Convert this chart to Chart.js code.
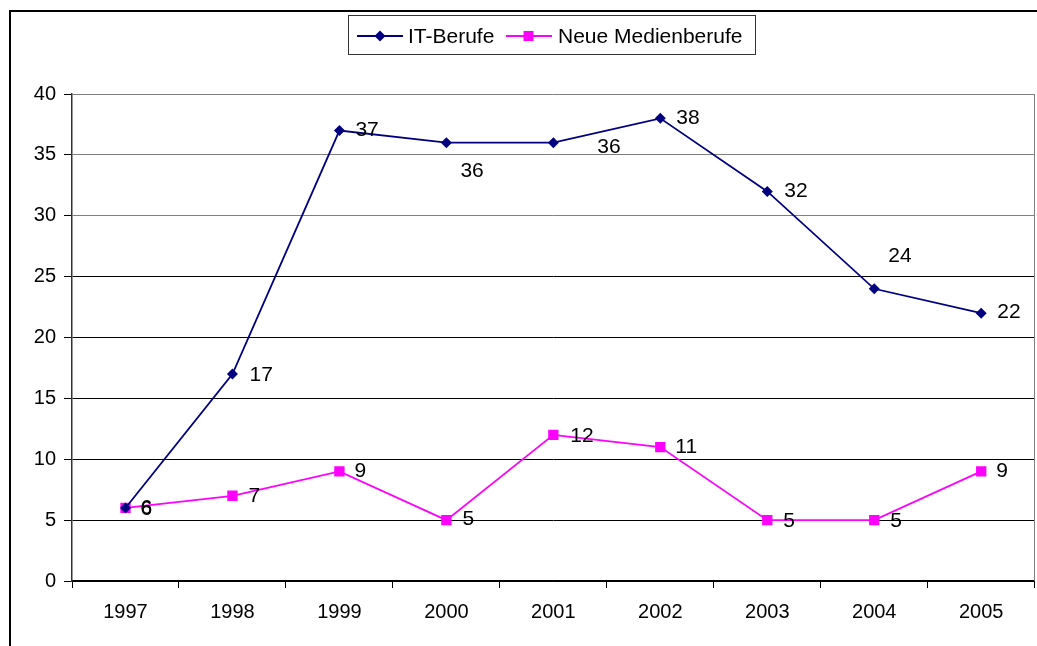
<!DOCTYPE html>
<html>
<head>
<meta charset="utf-8">
<script src="https://cdn.jsdelivr.net/npm/chart.js@4.4.0/dist/chart.umd.min.js"></script>
<style>
html,body{margin:0;padding:0;background:#fff;overflow:hidden;}
#wrap{position:absolute;left:0;top:0;width:1037px;height:646px;overflow:hidden;}
#c{position:absolute;left:0;top:0;}
</style>
</head>
<body>
<div id="wrap"><canvas id="c" width="1042" height="646"></canvas></div>
<script>
const categories = ['1997','1998','1999','2000','2001','2002','2003','2004','2005'];
const itBerufe = [6, 17, 37, 36, 36, 38, 32, 24, 22];
const neueMedienberufe = [6, 7, 9, 5, 12, 11, 5, 5, 9];
const seriesNames = ['IT-Berufe', 'Neue Medienberufe'];
const yTicks = [0, 5, 10, 15, 20, 25, 30, 35, 40];

// label offsets relative to each point (dx to label left, dy to label centre)
const itLabelOffsets = [[15,1],[17,1],[16,0],[14,29],[44,5],[16,0],[17,0],[14,-33],[16,-1]];
const nmLabelOffsets = [[15,0],[16,0],[15,0],[16,-1],[17,1],[15,0],[16,1],[16,1],[15,0]];

const FONT = '"Liberation Sans", Arial, sans-serif';
const NAVY = '#000080';
const MAGENTA = '#FF00FF';

const decorPlugin = {
  id: 'decor',
  afterDatasetsDraw(chart) {
    const ctx = chart.ctx;
    const area = chart.chartArea;
    ctx.save();
    // right border of plot area
    ctx.strokeStyle = '#808080';
    ctx.lineWidth = 1;
    ctx.beginPath();
    ctx.moveTo(Math.round(area.right) - 0.5, area.top);
    ctx.lineTo(Math.round(area.right) - 0.5, area.bottom);
    ctx.stroke();
    // data labels
    ctx.fillStyle = '#000';
    ctx.font = '21px ' + FONT;
    ctx.textAlign = 'left';
    ctx.textBaseline = 'middle';
    const offs = [itLabelOffsets, nmLabelOffsets];
    chart.data.datasets.forEach((ds, di) => {
      const meta = chart.getDatasetMeta(di);
      meta.data.forEach((pt, i) => {
        const o = offs[di][i];
        ctx.fillText(String(ds.data[i]), pt.x + o[0], pt.y + o[1]);
      });
    });
    ctx.restore();
  },
  afterDraw(chart) {
    const ctx = chart.ctx;
    ctx.save();
    // outer frame (top and left)
    ctx.strokeStyle = '#000';
    ctx.lineWidth = 2;
    ctx.beginPath();
    ctx.moveTo(10, 660);
    ctx.lineTo(10, 11);
    ctx.lineTo(1045, 11);
    ctx.stroke();
    // legend box
    ctx.lineWidth = 1;
    ctx.strokeStyle = '#333';
    ctx.fillStyle = '#fff';
    ctx.fillRect(348.5, 15.5, 407, 39);
    ctx.strokeRect(348.5, 15.5, 407, 39);
    const ly = 36;
    // IT-Berufe sample
    ctx.strokeStyle = NAVY; ctx.lineWidth = 1.8;
    ctx.beginPath(); ctx.moveTo(357, ly); ctx.lineTo(403, ly); ctx.stroke();
    ctx.fillStyle = NAVY;
    ctx.beginPath();
    ctx.moveTo(380, ly - 5.5); ctx.lineTo(385.5, ly); ctx.lineTo(380, ly + 5.5); ctx.lineTo(374.5, ly);
    ctx.closePath(); ctx.fill();
    // Neue Medienberufe sample
    ctx.strokeStyle = MAGENTA;
    ctx.beginPath(); ctx.moveTo(506, ly); ctx.lineTo(552, ly); ctx.stroke();
    ctx.fillStyle = MAGENTA;
    ctx.fillRect(523.5, ly - 5, 10, 10);
    ctx.fillStyle = '#000';
    ctx.font = '21px ' + FONT;
    ctx.textBaseline = 'middle';
    ctx.textAlign = 'left';
    ctx.fillText(seriesNames[0], 408, ly + 1);
    ctx.fillText(seriesNames[1], 558, ly + 1);
    ctx.restore();
  }
};

new Chart(document.getElementById('c'), {
  type: 'line',
  data: {
    labels: categories,
    datasets: [
      {
        label: seriesNames[0],
        data: itBerufe,
        borderColor: NAVY,
        backgroundColor: NAVY,
        borderWidth: 1.8,
        pointStyle: 'rectRot',
        pointRadius: 5.5,
        pointBorderWidth: 0,
        tension: 0,
        fill: false
      },
      {
        label: seriesNames[1],
        data: neueMedienberufe,
        borderColor: MAGENTA,
        backgroundColor: MAGENTA,
        borderWidth: 1.8,
        pointStyle: 'rect',
        pointRadius: 7.3,
        pointBorderWidth: 0,
        tension: 0,
        fill: false
      }
    ]
  },
  options: {
    responsive: false,
    animation: false,
    devicePixelRatio: 1,
    layout: { padding: { top: 94, right: 3, left: 0, bottom: 0 } },
    plugins: {
      legend: { display: false },
      tooltip: { enabled: false },
      title: { display: false }
    },
    scales: {
      x: {
        type: 'category',
        offset: true,
        grid: {
          offset: true,
          drawOnChartArea: false,
          drawTicks: true,
          tickLength: 7,
          tickColor: '#000',
          lineWidth: 1
        },
        border: { display: true, color: '#000', width: 1.5 },
        ticks: {
          color: '#000',
          font: { family: FONT, size: 20 },
          padding: 12,
          maxRotation: 0,
          autoSkip: false
        },
        afterFit(scale) { scale.height = 65; scale.paddingLeft = 0; scale.paddingRight = 0; }
      },
      y: {
        min: 0,
        max: 40,
        afterBuildTicks(scale) { scale.ticks = yTicks.map(v => ({ value: v })); },
        grid: {
          color: (c) => (c.tick && c.tick.value >= 30 ? '#808080' : '#000'),
          tickColor: '#000',
          drawTicks: true,
          tickLength: 8,
          lineWidth: 1
        },
        border: { display: true, color: '#333', width: 1.5 },
        ticks: {
          color: '#000',
          font: { family: FONT, size: 20 },
          padding: 8,
          stepSize: 5
        },
        afterFit(scale) { scale.width = 72; scale.paddingTop = 0; scale.paddingBottom = 0; }
      }
    }
  },
  plugins: [decorPlugin]
});
</script>
</body>
</html>
